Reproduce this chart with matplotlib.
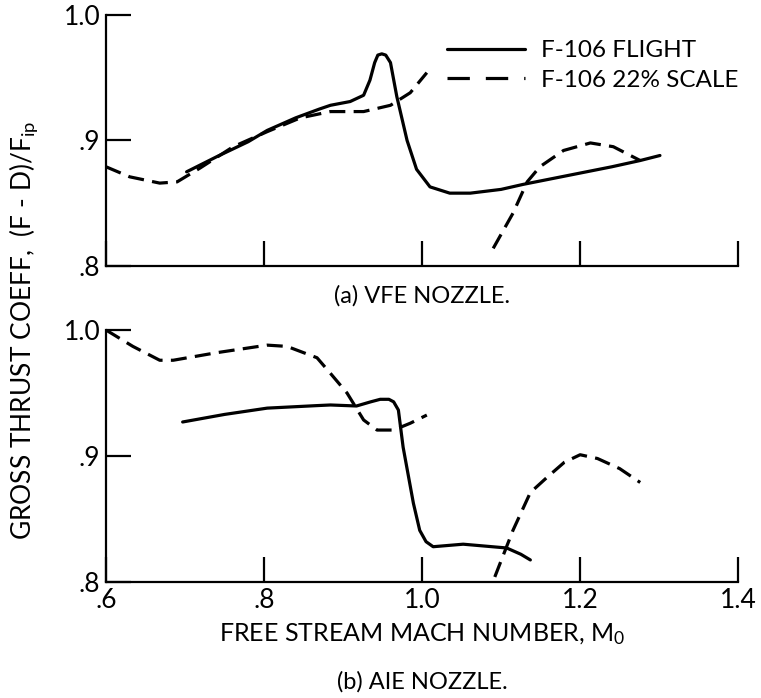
import matplotlib
matplotlib.use("Agg")
import matplotlib.pyplot as plt

plt.rcParams['font.family'] = ['Lato', 'DejaVu Sans']

# (a) VFE nozzle
vfe_flight_x = [0.702, 0.74, 0.78, 0.804, 0.84, 0.87, 0.884, 0.909, 0.926, 0.934, 0.940, 0.944, 0.949, 0.954, 0.960, 0.968, 0.981, 0.993, 1.010, 1.035, 1.061, 1.10, 1.128, 1.16, 1.20, 1.24, 1.276, 1.301]
vfe_flight_y = [0.875, 0.887, 0.899, 0.908, 0.918, 0.925, 0.928, 0.931, 0.936, 0.948, 0.962, 0.968, 0.969, 0.968, 0.962, 0.935, 0.900, 0.877, 0.863, 0.858, 0.858, 0.861, 0.865, 0.869, 0.874, 0.879, 0.884, 0.888]

vfe_scale1_x = [0.60, 0.63, 0.668, 0.69, 0.719, 0.761, 0.804, 0.846, 0.884, 0.926, 0.960, 0.985, 1.006]
vfe_scale1_y = [0.879, 0.871, 0.866, 0.867, 0.878, 0.895, 0.907, 0.918, 0.923, 0.923, 0.928, 0.938, 0.954]

vfe_scale2_x = [1.09, 1.115, 1.133, 1.149, 1.179, 1.213, 1.242, 1.276]
vfe_scale2_y = [0.814, 0.842, 0.867, 0.879, 0.892, 0.898, 0.895, 0.884]

# (b) AIE nozzle
aie_flight_x = [0.697, 0.75, 0.804, 0.867, 0.884, 0.917, 0.935, 0.947, 0.958, 0.964, 0.970, 0.976, 0.989, 0.997, 1.005, 1.014, 1.052, 1.107, 1.125, 1.137]
aie_flight_y = [0.927, 0.933, 0.938, 0.940, 0.9405, 0.9397, 0.943, 0.945, 0.945, 0.943, 0.9365, 0.907, 0.8625, 0.841, 0.832, 0.828, 0.830, 0.827, 0.822, 0.8175]

aie_scale1_x = [0.60, 0.634, 0.668, 0.685, 0.74, 0.804, 0.829, 0.867, 0.884, 0.905, 0.926, 0.943, 0.964, 0.985, 1.006]
aie_scale1_y = [1.000, 0.987, 0.976, 0.976, 0.982, 0.988, 0.987, 0.978, 0.9656, 0.950, 0.9286, 0.9206, 0.9206, 0.926, 0.9325]

aie_scale2_x = [1.092, 1.115, 1.137, 1.158, 1.18, 1.20, 1.222, 1.25, 1.276]
aie_scale2_y = [0.804, 0.841, 0.871, 0.883, 0.895, 0.901, 0.898, 0.890, 0.879]

xticks = [0.6, 0.8, 1.0, 1.2, 1.4]
xticklabels = ['.6', '.8', '1.0', '1.2', '1.4']
yticks = [0.8, 0.9, 1.0]
yticklabels = ['.8', '.9', '1.0']

fig = plt.figure(figsize=(7.61, 6.98), dpi=100)
ax1 = fig.add_axes([0.1393, 0.619, 0.8307, 0.3596])
ax2 = fig.add_axes([0.1393, 0.1662, 0.8307, 0.361])

lw = 2.3
dash = (5, 2.6)

def style(ax, show_x):
    ax.set_xlim(0.6, 1.4)
    ax.set_ylim(0.8, 1.0)
    for s in ['top', 'right']:
        ax.spines[s].set_visible(False)
    for s in ['left', 'bottom']:
        ax.spines[s].set_linewidth(1.6)
    ax.set_xticks(xticks)
    ax.set_yticks(yticks)
    ax.set_yticklabels(yticklabels, fontsize=19)
    if show_x:
        ax.set_xticklabels(xticklabels, fontsize=19)
    else:
        ax.set_xticklabels([])
    ax.tick_params(axis='both', direction='in', length=18, width=1.6, pad=4)
    ax.patch.set_alpha(0)

ax1.plot(vfe_flight_x, vfe_flight_y, color='black', lw=lw, solid_capstyle='round', label='F-106 FLIGHT')
ax1.plot(vfe_scale1_x, vfe_scale1_y, color='black', lw=lw, dashes=dash, label='F-106 22% SCALE')
ax1.plot(vfe_scale2_x, vfe_scale2_y, color='black', lw=lw, dashes=dash)
style(ax1, False)
leg = ax1.legend(loc='upper left', bbox_to_anchor=(0.54, 0.90), frameon=False, fontsize=17.5,
                 handlelength=3.2, handletextpad=0.65, labelspacing=0.35,
                 borderpad=0, borderaxespad=0)
leg.get_lines()[1].set_dashes((7, 5))

ax2.plot(aie_flight_x, aie_flight_y, color='black', lw=lw, solid_capstyle='round')
ax2.plot(aie_scale1_x, aie_scale1_y, color='black', lw=lw, dashes=dash)
ax2.plot(aie_scale2_x, aie_scale2_y, color='black', lw=lw, dashes=dash)
style(ax2, True)
ax2.set_xlabel('FREE STREAM MACH NUMBER, $\\mathregular{M_0}$', fontsize=18, labelpad=6)

fig.text(422 / 761, 1 - 296 / 698, '(a) VFE NOZZLE.', ha='center', va='center', fontsize=17)
fig.text(422 / 761, 1 - 682 / 698, '(b) AIE NOZZLE.', ha='center', va='center', fontsize=17)
fig.text(24 / 761, 1 - 330 / 698, 'GROSS THRUST COEFF,  (F - D)/$\\mathregular{F_{ip}}$',
         rotation=90, ha='center', va='center', fontsize=19)

fig.savefig('out.png', dpi=100, facecolor='white')
